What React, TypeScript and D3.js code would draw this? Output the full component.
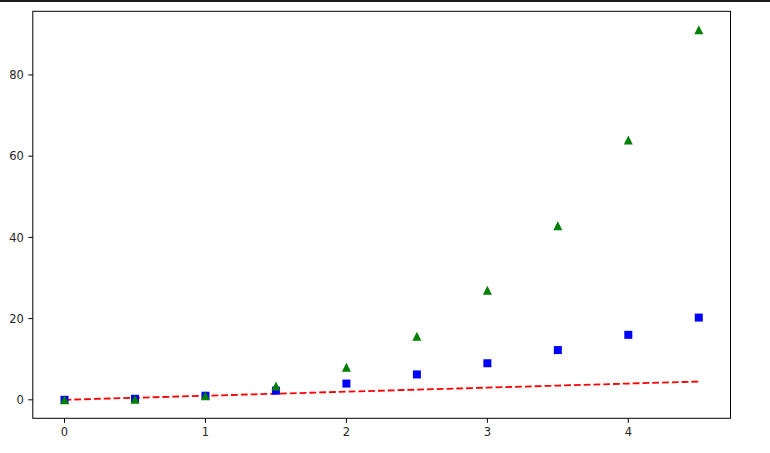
import React from "react";
import * as d3 from "d3";

const tValues = [0, 0.5, 1, 1.5, 2, 2.5, 3, 3.5, 4, 4.5];
const linearValues = [0, 0.5, 1, 1.5, 2, 2.5, 3, 3.5, 4, 4.5];
const squareValues = [0, 0.25, 1, 2.25, 4, 6.25, 9, 12.25, 16, 20.25];
const cubeValues = [0, 0.125, 1, 3.375, 8, 15.625, 27, 42.875, 64, 91.125];
const xTicks = [0, 1, 2, 3, 4];
const yTicks = [0, 20, 40, 60, 80];

const W = 770;
const H = 453;
const left = 32.8;
const right = 730.5;
const top = 11.3;
const bottom = 418.3;

export default function App() {
  const xMin = 0, xMax = 4.5;
  const yMin = 0, yMax = 91.125;
  const xPad = (xMax - xMin) * 0.05;
  const yPad = (yMax - yMin) * 0.05;
  const x = d3.scaleLinear().domain([xMin - xPad, xMax + xPad]).range([left, right]);
  const y = d3.scaleLinear().domain([yMin - yPad, yMax + yPad]).range([bottom, top]);
  const line = d3
    .line<number>()
    .x((_, i) => x(tValues[i]))
    .y((d) => y(d));
  const font = "'DejaVu Sans', sans-serif";
  const sq = 8;
  const th = 4.5;
  return (
    <svg
      width={W}
      height={H}
      style={{ position: "absolute", left: 0, top: 0, background: "#fff" }}
    >
      <rect x={0} y={0} width={W} height={2} fill="#1c1c1c" />
      <path
        d={line(linearValues) || ""}
        fill="none"
        stroke="#ff0000"
        strokeWidth={1.8}
        strokeDasharray="6.8 3"
      />
      {squareValues.map((v, i) => (
        <rect
          key={"s" + i}
          x={x(tValues[i]) - sq / 2}
          y={y(v) - sq / 2}
          width={sq}
          height={sq}
          fill="#0000ff"
        />
      ))}
      {cubeValues.map((v, i) => {
        const cx = x(tValues[i]);
        const cy = y(v);
        return (
          <path
            key={"t" + i}
            d={`M${cx},${cy - th}L${cx - th},${cy + th}L${cx + th},${cy + th}Z`}
            fill="#008000"
          />
        );
      })}
      <rect
        x={left}
        y={top}
        width={right - left}
        height={bottom - top}
        fill="none"
        stroke="#000"
        strokeWidth={1}
      />
      {xTicks.map((t) => (
        <g key={"x" + t}>
          <line x1={x(t)} x2={x(t)} y1={bottom} y2={bottom + 4.5} stroke="#000" strokeWidth={1} />
          <text
            x={x(t)}
            y={bottom + 9}
            dy="0.72em"
            textAnchor="middle"
            fontFamily={font}
            fontSize={11.5}
            fill="#262626"
          >
            {t}
          </text>
        </g>
      ))}
      {yTicks.map((t) => (
        <g key={"y" + t}>
          <line x1={left - 4.5} x2={left} y1={y(t)} y2={y(t)} stroke="#000" strokeWidth={1} />
          <text
            x={left - 9}
            y={y(t)}
            dy="0.36em"
            textAnchor="end"
            fontFamily={font}
            fontSize={11.5}
            fill="#262626"
          >
            {t}
          </text>
        </g>
      ))}
    </svg>
  );
}
